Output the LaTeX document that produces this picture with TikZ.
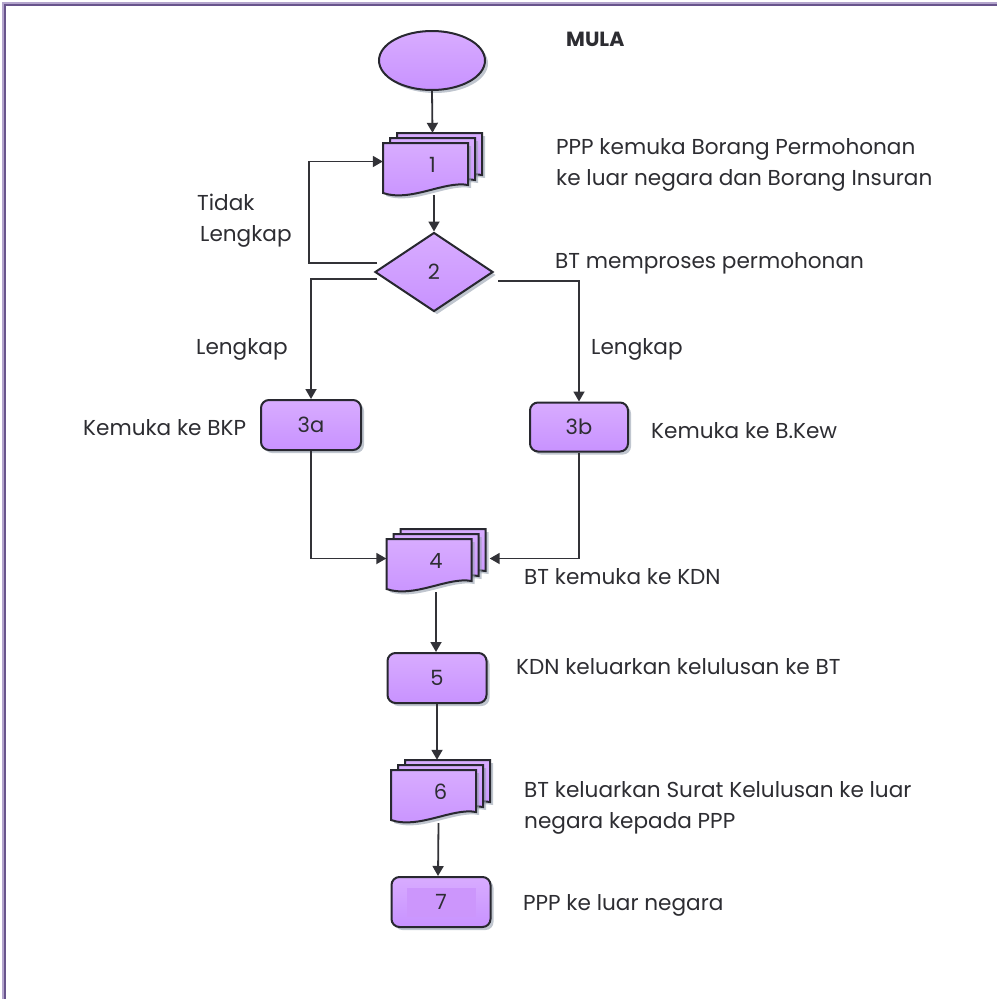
\documentclass[tikz,border=0pt]{standalone}
\usepackage{fontspec}
\setmainfont{Poppins}
\usetikzlibrary{shapes.geometric,shadows,arrows.meta,calc}
\definecolor{fillT}{RGB}{216,172,255}
\definecolor{fillB}{RGB}{200,146,255}
\definecolor{fillIn}{RGB}{204,150,252}
\definecolor{edge}{RGB}{40,40,48}
\definecolor{ln}{RGB}{50,50,55}
\definecolor{txt}{RGB}{45,45,50}
\definecolor{framec}{RGB}{104,84,140}
\definecolor{framel}{RGB}{180,165,205}
\definecolor{shad}{RGB}{150,160,175}
\tikzset{
  box/.style={draw=edge, line width=2pt, top color=fillT, bottom color=fillB,
    drop shadow={shadow xshift=3pt, shadow yshift=-3pt, fill=shad, opacity=.6}},
  shapelbl/.style={font=\fontsize{21}{24}\selectfont, text=txt, inner sep=0pt},
  startnode/.style={box, shapelbl, ellipse, minimum width=106pt, minimum height=59pt},
  decision/.style={box, shapelbl, diamond, minimum width=118pt, minimum height=79pt},
  process/.style={box, shapelbl, rectangle, rounded corners=8pt, minimum width=99pt, minimum height=50pt},
  stack/.style={shapelbl, rectangle, minimum width=99pt, minimum height=63pt},
  lbl/.style={font=\fontsize{21.6}{31}\selectfont, text=txt, inner sep=0pt, anchor=mid west},
  lbltwo/.style={lbl, align=left, anchor=north west},
  arr/.style={draw=ln, line width=1.8pt, -{Triangle[length=10pt,width=11pt]}},
}
\newcommand\docstack[3]{%
  \begin{scope}[shift={#2}]
    \foreach \dx/\dy in {14/10,7/5,0/0}{
      \path[box] (-49.5+\dx,-21.5-\dy) -- (35.5+\dx,-21.5-\dy) -- (35.5+\dx,20.5-\dy)
        .. controls (12+\dx,16-\dy) and (-22+\dx,38-\dy) .. (-49.5+\dx,28.5-\dy) -- cycle;
    }
  \end{scope}
  \node[stack] (#1) at #2 {#3};
}
\begin{document}
\begin{tikzpicture}[x=1pt,y=-1pt]
\useasboundingbox (0,0) rectangle (997,999);
% frame
\draw[framel, line width=4pt] (4,999) -- (4,4) -- (997,4);
\draw[framec, line width=2.2pt] (5,999) -- (5,5) -- (997,5);

% shapes
\node[startnode] (e0) at (432,60.5) {};
\docstack{d1}{(432.5,164.5)}{1}
\node[decision] (d2) at (434,272) {2};
\node[process, minimum width=100pt] (n3a) at (311,425) {3a};
\node[process, minimum width=98pt, minimum height=49pt] (n3b) at (579,427) {3b};
\docstack{d4}{(436,560.5)}{4}
\node[process] (n5) at (437,678) {5};
\docstack{d6}{(440.5,791.5)}{6}
\node[process] (n7) at (441,902) {};
\fill[fillIn] ($(n7.center)+(-34,-14)$) rectangle ($(n7.center)+(35,15)$);
\node[shapelbl] (n7lbl) at (n7.center) {7};

% connectors
\draw[arr] (e0.south) -- (d1.north);
\draw[arr] (d1.south) -- (d1.south -| d2.north) -- (d2.north);
\draw[arr] ($(d2.west)+(3,-9)$) -| ($(d1.west)+(-74,-3)$) -- ($(d1.west)+(0,-3)$);
\draw[arr] ($(d2.west)+(3,7)$) -| (n3a.north);
\draw[arr] ($(d2.east)+(4,9)$) -| (n3b.north);
\draw[arr] (n3a.south) |- ($(d4.west)+(0,-2)$);
\draw[arr] (n3b.south) |- ($(d4.east)+(4,-2)$);
\draw[arr] (d4.south) -- (d4.south |- n5.north);
\draw[arr] (n5.south) -- (n5.south |- d6.north);
\draw[arr] ($(d6.south)+(-2,0)$) -- ($(n7.north)+(-3,0)$);

% texts
\node[lbl, font=\fontsize{20.5}{31}\selectfont\bfseries] (tmula) at (566,44) {MULA};
\node[lbltwo] (t1) at (556,138) {PPP kemuka Borang Permohonan\\ke luar negara dan Borang Insuran};
\node[lbltwo] (ttidak) at (197,194) {Tidak\\\hspace{3pt}Lengkap};
\node[lbl] (t2) at (555,266) {BT memproses permohonan};
\node[lbl] (tlk1) at (196,352) {Lengkap};
\node[lbl] (tlk2) at (591,352) {Lengkap};
\node[lbl] (t3a) at (83,433) {Kemuka ke BKP};
\node[lbl] (t3b) at (651,436) {Kemuka ke B.Kew};
\node[lbl] (t4) at (524,582) {BT kemuka ke KDN};
\node[lbl] (t5) at (516,672) {KDN keluarkan kelulusan ke BT};
\node[lbltwo] (t6) at (524,781) {BT keluarkan Surat Kelulusan ke luar\\negara kepada PPP};
\node[lbl] (t7) at (523,908) {PPP ke luar negara};
\end{tikzpicture}
\end{document}
